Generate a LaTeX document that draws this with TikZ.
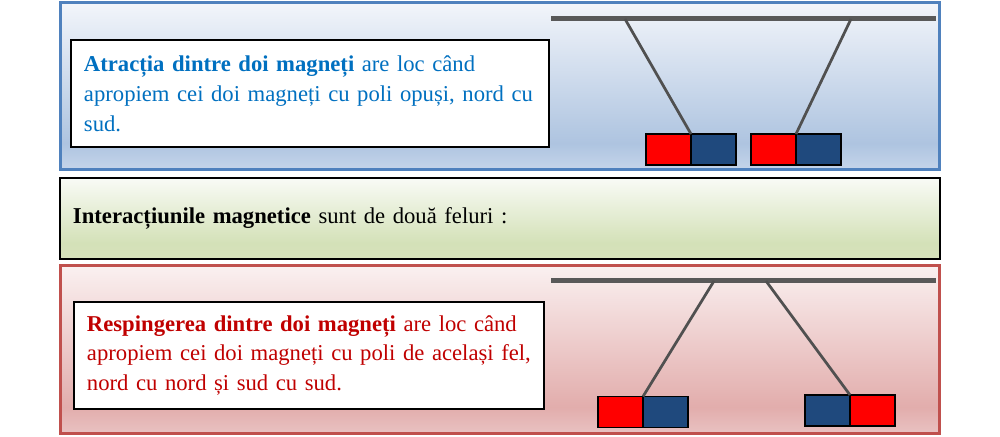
\documentclass[tikz,border=0pt]{standalone}
\usepackage{fontspec}
\setmainfont{Liberation Serif}
\usetikzlibrary{positioning}

\definecolor{frameBlue}{HTML}{4F81BD}
\definecolor{frameRed}{HTML}{C0504D}
\definecolor{txtBlue}{HTML}{0070C0}
\definecolor{txtRed}{HTML}{C00000}
\definecolor{poleRed}{HTML}{FF0000}
\definecolor{poleBlue}{HTML}{1F497D}
\definecolor{barGrey}{HTML}{595959}

% panel shadings (bottom -> top)
\pgfdeclareverticalshading{atrshade}{100bp}{color(0bp)=({rgb,255:red,197;green,213;blue,234}); color(25bp)=({rgb,255:red,197;green,213;blue,234}); color(33bp)=({rgb,255:red,174;green,196;blue,224}); color(75bp)=({rgb,255:red,242;green,245;blue,250}); color(100bp)=({rgb,255:red,242;green,245;blue,250})}
\pgfdeclareverticalshading{respshade}{100bp}{color(0bp)=({rgb,255:red,233;green,194;blue,194}); color(25bp)=({rgb,255:red,233;green,194;blue,194}); color(33bp)=({rgb,255:red,226;green,173;blue,172}); color(75bp)=({rgb,255:red,250;green,240;blue,240}); color(100bp)=({rgb,255:red,250;green,240;blue,240})}
\pgfdeclareverticalshading{interactshade}{100bp}{color(0bp)=({rgb,255:red,214;green,226;blue,187}); color(25bp)=({rgb,255:red,214;green,226;blue,187}); color(35bp)=({rgb,255:red,212;green,225;blue,184}); color(75bp)=({rgb,255:red,249;green,251;blue,246}); color(100bp)=({rgb,255:red,249;green,251;blue,246})}

\begin{document}
\begin{tikzpicture}[x=0.2mm, y=-0.2mm,
    font=\fontsize{12.9}{17}\selectfont,
    pole/.style={draw=black, line width=0.6pt, minimum width=9mm, minimum height=6.2mm, inner sep=0pt, outer sep=0pt},
    nordpole/.style={pole, fill=poleRed},
    sudpole/.style={pole, fill=poleBlue},
    bar/.style={draw=barGrey, line width=1mm},
    thread/.style={draw=barGrey!90!black, line width=0.55mm},
    textbox/.style={draw=black, line width=0.6pt, fill=white, align=left, inner xsep=2.6mm, minimum height=21.4mm}]
    \useasboundingbox (0,0) rectangle (1000,437);

    % atractie
    \draw[frameBlue, line width=0.6mm, shading=atrshade] (60,3) rectangle (939,170);
    \node[textbox, text width=90.4mm, text=txtBlue] (atrText) at (310,93.5)
        {\textbf{Atracția dintre doi magneți} are loc când\\apropiem cei doi magneți cu poli opuși, nord cu\\sud.};
    \draw[bar] (551,19) coordinate (atrBarL) -- (936,19) coordinate (atrBarR);
    \coordinate (atrHookA) at (625,19);
    \coordinate (atrHookB) at (851,19);
    \node[nordpole] (atrNA) at (668.5,149.5) {};
    \node[sudpole, right=0 of atrNA] (atrSA) {};
    \node[nordpole] (atrNB) at (773.5,149.5) {};
    \node[sudpole, right=0 of atrNB] (atrSB) {};
    \draw[thread] (atrHookA) -- (atrNA.north east);
    \draw[thread] (atrHookB) -- (atrNB.north east);

    % interactiuni
    \node[draw=black, line width=0.6pt, shading=interactshade, minimum width=176mm, minimum height=16.2mm,
        text width=170.8mm, inner xsep=2.6mm, align=left] (interact) at (500,218.5)
        {\textbf{Interacțiunile magnetice} sunt de două feluri :};

    % respingere
    \draw[frameRed, line width=0.6mm, shading=respshade] (60,266) rectangle (939,434);
    \node[textbox, text width=88.8mm, text=txtRed] (respText) at (309,355.5)
        {\textbf{Respingerea dintre doi magneți} are loc când\\apropiem cei doi magneți cu poli de același fel,\\nord cu nord și sud cu sud.};
    \draw[bar] (551,281) coordinate (respBarL) -- (936,281) coordinate (respBarR);
    \coordinate (respHookA) at (714,281);
    \coordinate (respHookB) at (766,281);
    \node[nordpole] (respNA) at (620.5,412) {};
    \node[sudpole, right=0 of respNA] (respSA) {};
    \node[sudpole] (respSB) at (827.5,410.5) {};
    \node[nordpole, right=0 of respSB] (respNB) {};
    \draw[thread] (respHookA) -- (respNA.north east);
    \draw[thread] (respHookB) -- (respSB.north east);
\end{tikzpicture}
\end{document}
